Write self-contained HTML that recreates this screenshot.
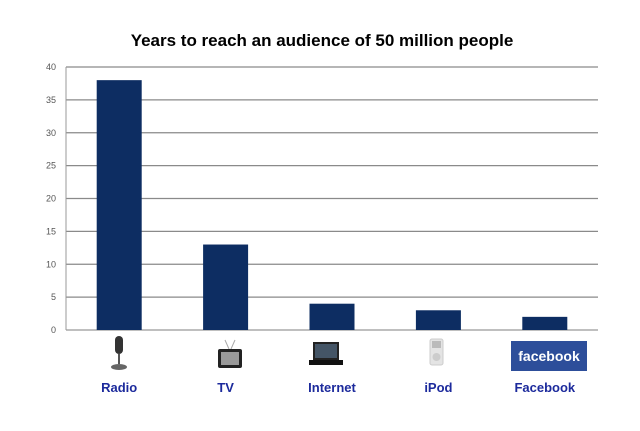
<!DOCTYPE html>
<html><head><meta charset="utf-8"><style>
body{margin:0;background:#fff;width:640px;height:426px;overflow:hidden;font-family:"Liberation Sans",sans-serif}
</style></head><body>
<svg width="640" height="426">
<text x="322" y="46" text-anchor="middle" font-size="17" font-weight="bold" fill="#000">Years to reach an audience of 50 million people</text>
<g id="grid"></g><g id="bars"></g><g id="labels"></g>
<line x1="66" y1="67" x2="66" y2="330" stroke="#999"/>
<g><rect x="115" y="336" width="8" height="18" rx="4" fill="#333"/><rect x="118" y="354" width="2" height="10" fill="#555"/><ellipse cx="119" cy="367" rx="8" ry="3" fill="#666"/></g>
<g><line x1="225" y1="340" x2="229" y2="349" stroke="#aaa"/><line x1="235" y1="340" x2="231" y2="349" stroke="#aaa"/><rect x="218" y="349" width="24" height="19" rx="2" fill="#222"/><rect x="221" y="352" width="18" height="13" fill="#999"/></g>
<g><rect x="313" y="342" width="26" height="18" fill="#222"/><rect x="315" y="344" width="22" height="14" fill="#456"/><rect x="309" y="360" width="34" height="5" fill="#111"/></g>
<g><rect x="430" y="339" width="13" height="26" rx="2" fill="#e4e4e4" stroke="#ccc"/><rect x="432" y="341" width="9" height="7" fill="#bbb"/><circle cx="436.5" cy="357" r="4" fill="#ccc"/></g>
<g><rect x="511" y="341" width="76" height="30" fill="#2d4e9a"/><text x="549" y="361" text-anchor="middle" font-size="14" font-weight="bold" fill="#fff">facebook</text></g>
</svg>
<script>
const categories=["Radio","TV","Internet","iPod","Facebook"];
const values=[38,13,4,3,2];
const ticks=[0,5,10,15,20,25,30,35,40];
const NS="http://www.w3.org/2000/svg";
const x0=66,x1=598,yTop=67,yBot=330,yMax=40;
const y=v=>yBot-(v/yMax)*(yBot-yTop);
const band=(x1-x0)/categories.length;
const xc=i=>x0+band*(i+0.5);
function mk(t,a,p){const e=document.createElementNS(NS,t);for(const k in a)e.setAttribute(k,a[k]);p.appendChild(e);return e;}
const g=document.getElementById("grid");
ticks.forEach(t=>{
 const l=mk("line",{x1:x0,x2:x1,y1:y(t),y2:y(t),stroke:t===0?"#999":"#8a8a8a","stroke-width":1.3},g);
 
 
 const tx=mk("text",{x:56,y:y(t)+3,"text-anchor":"end","font-size":9,fill:"#555"},g);
 tx.textContent=t;
 
 
});
const b=document.getElementById("bars"),lb=document.getElementById("labels");
categories.forEach((c,i)=>{
 const r=mk("rect",{x:xc(i)-22.5,y:y(values[i]),width:45,height:yBot-y(values[i]),fill:"#0d2d62"},b);
 
 
 const t=mk("text",{x:xc(i),y:392,"text-anchor":"middle","font-size":13,"font-weight":"bold",fill:"#1c2a9c"},lb);
 t.textContent=c;
 
 
});
</script>
</body></html>
